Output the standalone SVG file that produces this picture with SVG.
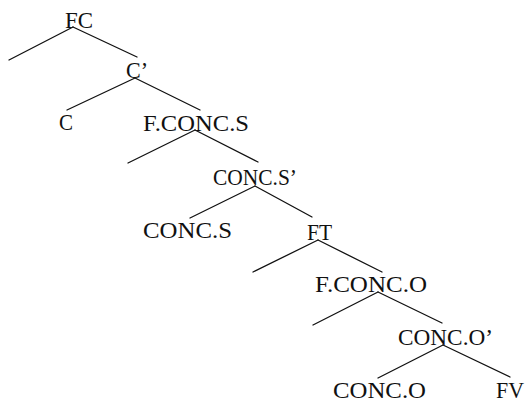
<svg xmlns="http://www.w3.org/2000/svg" width="526" height="404" viewBox="0 0 526 404">
<style>
text { font-family: "Liberation Serif", "Times New Roman", serif; font-size: 24px; fill: #111; }
.edge { stroke: #111; stroke-width: 1.3; fill: none; stroke-linecap: round; }
</style>
<rect width="526" height="404" fill="#fff"/>
<g id="connectors">
<line class="edge" x1="73" y1="27" x2="9" y2="60"/>
<line class="edge" x1="73" y1="27" x2="137" y2="57"/>
<line class="edge" x1="135" y1="78" x2="67" y2="110"/>
<line class="edge" x1="135" y1="78" x2="200" y2="110"/>
<line class="edge" x1="195" y1="130" x2="128" y2="163"/>
<line class="edge" x1="195" y1="130" x2="258" y2="162"/>
<line class="edge" x1="255" y1="186" x2="190" y2="218"/>
<line class="edge" x1="255" y1="186" x2="312" y2="217"/>
<line class="edge" x1="318" y1="240" x2="253" y2="272"/>
<line class="edge" x1="318" y1="240" x2="382" y2="272"/>
<line class="edge" x1="378" y1="292" x2="313" y2="325"/>
<line class="edge" x1="378" y1="292" x2="442" y2="323"/>
<line class="edge" x1="443" y1="345" x2="378" y2="378"/>
<line class="edge" x1="443" y1="345" x2="510" y2="377"/>
</g>
<g id="node-FC"><text x="65" y="28" textLength="28" lengthAdjust="spacingAndGlyphs">FC</text></g>
<g id="node-Cbar"><text x="126" y="78" textLength="22" lengthAdjust="spacingAndGlyphs">C’</text></g>
<g id="node-C"><text x="59" y="130" textLength="14" lengthAdjust="spacingAndGlyphs">C</text></g>
<g id="node-FCONCS"><text x="143" y="131" textLength="106" lengthAdjust="spacingAndGlyphs">F.CONC.S</text></g>
<g id="node-CONCSbar"><text x="213" y="185" textLength="84" lengthAdjust="spacingAndGlyphs">CONC.S’</text></g>
<g id="node-CONCS"><text x="143" y="238" textLength="89" lengthAdjust="spacingAndGlyphs">CONC.S</text></g>
<g id="node-FT"><text x="307" y="240" textLength="25" lengthAdjust="spacingAndGlyphs">FT</text></g>
<g id="node-FCONCO"><text x="315" y="292" textLength="112" lengthAdjust="spacingAndGlyphs">F.CONC.O</text></g>
<g id="node-CONCObar"><text x="398" y="345" textLength="95" lengthAdjust="spacingAndGlyphs">CONC.O’</text></g>
<g id="node-CONCO"><text x="333" y="398" textLength="93" lengthAdjust="spacingAndGlyphs">CONC.O</text></g>
<g id="node-FV"><text x="496" y="398" textLength="28" lengthAdjust="spacingAndGlyphs">FV</text></g>
</svg>
